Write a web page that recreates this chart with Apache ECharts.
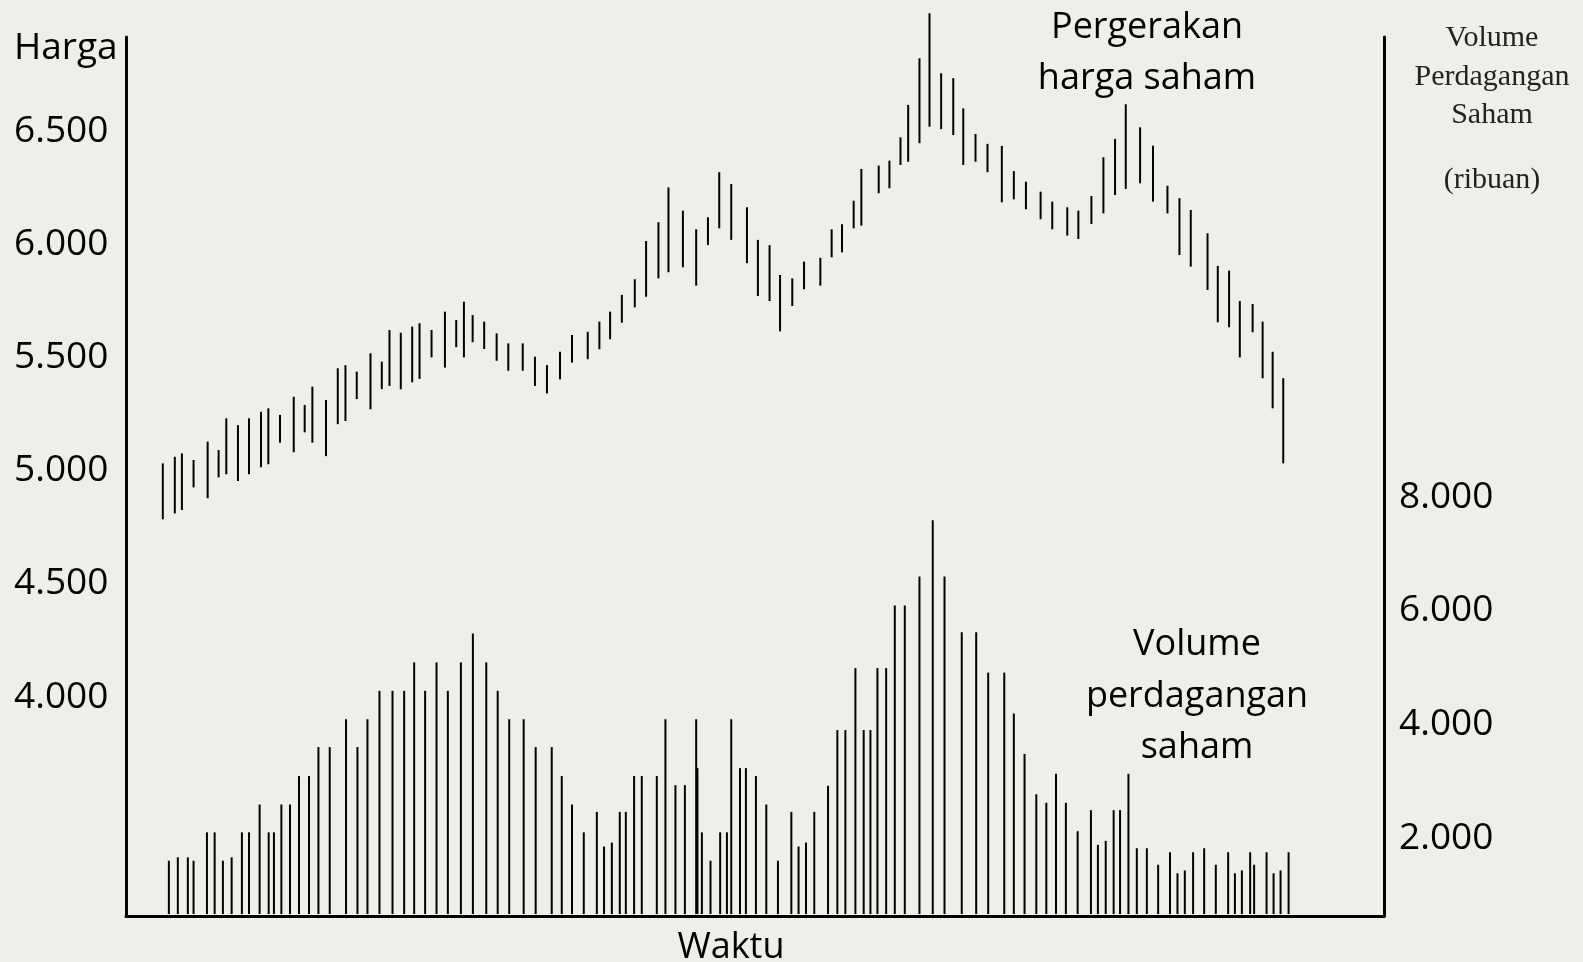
<!DOCTYPE html>
<html>
<head>
<meta charset="utf-8">
<script src="https://cdn.jsdelivr.net/npm/echarts@6/dist/echarts.min.js"></script>
<style>
html,body{margin:0;padding:0;background:#f0eee9;}
#chart{width:1583px;height:962px;}
</style>
</head>
<body>
<div id="chart"></div>
<script>
// Waktu (hari) of each price bar
var priceTime = [3.16,4.19,4.80,5.80,7.01,7.95,8.61,9.61,10.56,11.59,
  12.22,13.22,14.40,15.34,16.00,17.17,18.18,18.84,19.81,20.99,
  21.96,22.62,23.59,24.57,25.20,26.23,27.38,28.35,29.01,29.76,
  30.75,31.82,32.82,34.06,35.11,36.14,37.26,38.29,39.64,40.64,
  41.56,42.57,43.68,44.65,45.71,46.57,47.81,48.95,49.96,50.93,
  51.96,53.31,54.25,55.25,56.15,57.20,58.21,59.61,60.58,61.47,
  62.47,63.13,64.62,65.54,66.49,67.15,68.12,68.98,69.98,71.02,
  71.88,72.93,73.96,75.19,76.22,77.26,78.52,79.52,80.81,81.76,
  82.88,83.91,84.91,85.83,87.06,88.17,89.41,90.44,91.41,92.85,
  93.73,94.70,95.62,96.72,97.58,98.44,99.35];
var priceHigh = [5032,5061,5076,5047,5128,5091,5231,5201,5231,5260,
  5275,5246,5326,5290,5371,5312,5452,5466,5437,5518,
  5481,5621,5609,5636,5651,5621,5702,5665,5746,5687,
  5658,5606,5562,5562,5503,5466,5525,5599,5613,5658,
  5702,5776,5845,6014,6097,6251,6148,6066,6119,6318,
  6266,6163,6019,5996,5864,5849,5923,5940,6066,6088,
  6192,6332,6347,6369,6472,6615,6821,7020,6755,6733,
  6600,6487,6443,6434,6323,6276,6232,6188,6163,6148,
  6213,6384,6465,6618,6516,6435,6258,6203,6151,6048,
  5904,5883,5749,5736,5658,5525,5408];
var priceLow = [4785,4811,4826,4926,4878,4970,4984,4954,4984,5015,
  5028,5123,5081,5169,5123,5064,5205,5219,5316,5271,
  5360,5374,5359,5390,5405,5500,5455,5545,5500,5567,
  5537,5485,5441,5441,5374,5341,5403,5477,5492,5536,
  5580,5653,5721,5768,5849,5876,5898,5817,5996,6070,
  6019,5916,5771,5749,5615,5727,5801,5817,5942,5964,
  6070,6082,6225,6247,6350,6364,6446,6519,6508,6482,
  6350,6364,6318,6185,6198,6154,6110,6066,6038,6023,
  6089,6136,6217,6244,6269,6188,6136,5952,5901,5798,
  5655,5633,5500,5611,5408,5275,5032];

// Waktu (hari) of each volume bar
var volumeTime = [3.68,4.45,5.31,5.80,6.95,7.61,8.32,9.07,9.95,10.56,
  11.47,12.25,12.70,13.34,14.08,14.85,15.71,16.52,17.49,18.89,
  19.87,20.73,21.76,22.88,23.88,24.74,25.68,26.66,27.63,28.75,
  29.78,30.93,31.91,32.90,34.14,35.17,36.55,37.41,38.29,39.30,
  40.42,41.04,41.71,42.39,42.91,43.62,44.28,45.57,46.31,47.17,
  47.98,48.95,49.06,49.44,50.18,51.01,51.59,51.96,52.71,53.22,
  54.08,54.97,55.97,57.12,57.74,58.38,59.09,60.27,61.07,61.76,
  62.62,63.33,63.91,64.51,65.26,66.00,66.86,68.12,69.26,70.27,
  71.75,72.99,74.02,75.40,76.22,77.14,78.15,79.01,79.84,80.69,
  81.70,82.84,83.44,84.11,84.79,85.34,86.06,86.78,87.64,88.61,
  89.63,90.27,90.90,91.61,92.56,93.56,94.62,95.20,95.80,96.51,
  96.85,97.92,98.52,99.12,99.81];
var volumeValue = [1600,1660,1660,1600,2100,2100,1600,1660,2100,2100,
  2590,2100,2100,2590,2590,3090,3090,3600,3600,4090,
  3600,4090,4590,4590,4590,5090,4590,5090,4590,5090,
  5600,5090,4590,4090,4090,3600,3600,3090,2590,2100,
  2460,1850,1920,2460,2460,3090,3090,3090,4090,2930,
  2930,4090,3230,2100,1600,2100,2100,4090,3230,3230,
  3090,2590,1600,2460,1850,1920,2460,2920,3900,3900,
  4990,3900,3900,4990,4990,6090,6090,6600,7590,6600,
  5620,5620,4910,4910,4190,3480,2770,2620,3130,2620,
  2120,2490,1880,1950,2490,2490,3130,1820,1820,1530,
  1750,1380,1430,1750,1820,1530,1750,1380,1430,1750,
  1530,1750,1380,1430,1750];

var priceTicks = [4000,4500,5000,5500,6000,6500];
var volumeTicks = [2000,4000,6000,8000];

var priceMin = 3033, priceMax = 6915;
var volMin = 628, volMax = 16094;
var timeMin = 0, timeMax = 108;

function fmt(v){ return String(v).replace(/\B(?=(\d{3})+(?!\d))/g, '.'); }

var priceData = priceTime.map(function(t,i){ return [t, priceLow[i], priceHigh[i]]; });
var volumeData = volumeTime.map(function(t,i){ return [t, volumeValue[i]]; });

var FONT = "'Open Sans', sans-serif";
var SANS = "36px 'Open Sans'";
var SERIF = "30px 'Liberation Serif'";
function txt(x, y, s, font, fill){
  return {type: 'text', x: x, y: y, style: {text: s, font: font, fill: fill || '#000', align: 'center', verticalAlign: 'middle'}};
}
var chart = echarts.init(document.getElementById('chart'));
chart.setOption({
  backgroundColor: '#f0eee9',
  animation: false,
  grid: {left: 126, right: 199, top: 37, bottom: 46, containLabel: false},
  xAxis: {
    type: 'value', min: timeMin, max: timeMax,
    axisLine: {show: true, onZero: false, lineStyle: {color: '#000', width: 3}},
    axisTick: {show: false}, axisLabel: {show: false}, splitLine: {show: false}
  },
  yAxis: [{
    type: 'value', position: 'left', min: priceMin, max: priceMax,
    axisLine: {show: true, onZero: false, lineStyle: {color: '#000', width: 3}},
    axisTick: {show: false}, splitLine: {show: false},
    axisLabel: {customValues: priceTicks, formatter: fmt, align: 'left', margin: 112,
      color: '#000', fontSize: 37, fontFamily: FONT, padding: [8, 0, 0, 0]}
  }, {
    type: 'value', position: 'right', min: volMin, max: volMax,
    axisLine: {show: true, onZero: false, lineStyle: {color: '#000', width: 3}},
    axisTick: {show: false}, splitLine: {show: false},
    axisLabel: {customValues: volumeTicks, formatter: fmt, align: 'left', margin: 15,
      color: '#000', fontSize: 37, fontFamily: FONT, padding: [8, 0, 0, 0]}
  }],
  graphic: [
    {type: 'text', x: 14, y: 48, style: {text: 'Harga', font: "37px 'Open Sans'", fill: '#000', align: 'left', verticalAlign: 'middle'}},
    txt(1147, 28, 'Pergerakan', SANS),
    txt(1147, 79, 'harga saham', SANS),
    txt(1197, 645, 'Volume', SANS),
    txt(1197, 697, 'perdagangan', SANS),
    txt(1197, 748, 'saham', SANS),
    txt(731, 948, 'Waktu', SANS),
    txt(1492, 38, 'Volume', SERIF, '#222'),
    txt(1492, 77, 'Perdagangan', SERIF, '#222'),
    txt(1492, 115, 'Saham', SERIF, '#222'),
    txt(1492, 180, '(ribuan)', SERIF, '#222')
  ],
  series: [{
    name: 'Pergerakan harga saham', type: 'custom', xAxisIndex: 0, yAxisIndex: 0,
    data: priceData, clip: false,
    renderItem: function(params, api){
      var p1 = api.coord([api.value(0), api.value(1)]);
      var p2 = api.coord([api.value(0), api.value(2)]);
      return {type: 'line', shape: {x1: p1[0], y1: p1[1], x2: p2[0], y2: p2[1]},
        style: {stroke: '#000', lineWidth: 2}};
    }
  }, {
    name: 'Volume perdagangan saham', type: 'custom', xAxisIndex: 0, yAxisIndex: 1,
    data: volumeData, clip: false,
    renderItem: function(params, api){
      var p1 = api.coord([api.value(0), volMin]);
      var p2 = api.coord([api.value(0), api.value(1)]);
      return {type: 'line', shape: {x1: p1[0], y1: p1[1] - 2, x2: p2[0], y2: p2[1]},
        style: {stroke: '#000', lineWidth: 2}};
    }
  }]
});
</script>
</body>
</html>
